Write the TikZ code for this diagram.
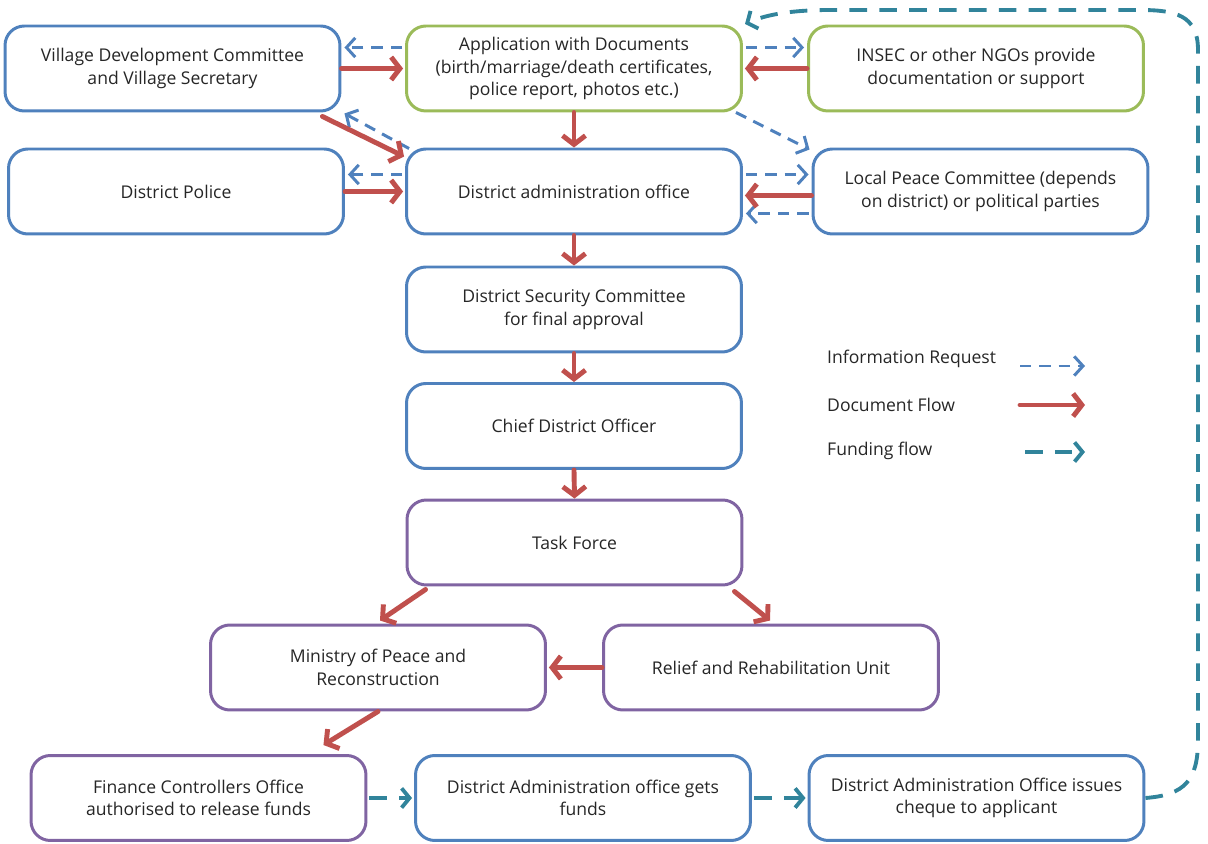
\documentclass[tikz,border=0pt]{standalone}
\usepackage{fontspec}
\setmainfont{Open Sans}
\usetikzlibrary{arrows.meta,positioning}
\definecolor{boxblue}{HTML}{4F81BD}
\definecolor{boxgreen}{HTML}{9BBB59}
\definecolor{boxpurple}{HTML}{8064A2}
\definecolor{docred}{HTML}{C0504D}
\definecolor{fundteal}{HTML}{31849B}
\tikzstyle{stepbox} = [rectangle, rounded corners=11pt, draw=boxblue, line width=1.7pt, fill=white, minimum width=6.7cm, minimum height=1.7cm, align=center, text=black!85, font=\fontsize{10}{12.8}\selectfont]
\tikzstyle{greenbox} = [stepbox, draw=boxgreen]
\tikzstyle{purplebox} = [stepbox, draw=boxpurple]
\tikzstyle{info} = [draw=boxblue, line width=1.7pt, dash pattern=on 6.5pt off 4.5pt, -{Straight Barb[length=5pt,width=11pt]}]
\tikzstyle{doc} = [draw=docred, line width=2.8pt, line cap=round, -{Straight Barb[length=5pt,width=13pt]}]
\tikzstyle{fund} = [draw=fundteal, line width=2.2pt, dash pattern=on 10pt off 7pt, -{Straight Barb[length=4.5pt,width=11pt]}]
\tikzstyle{legend} = [anchor=west, text=black!85, font=\fontsize{10}{12.8}\selectfont]

\begin{document}
\begin{tikzpicture}[x=0.02cm, y=-0.02cm]
\useasboundingbox (0,0) rectangle (1208,844);
\node [stepbox] (vdc) at (172.5,68.5) {Village Development Committee\\and Village Secretary};
\node [greenbox] (app) at (574,68.5) {Application with Documents\\(birth/marriage/death certificates,\\police report, photos etc.)};
\node [greenbox] (insec) at (976,68.5) {INSEC or other NGOs provide\\documentation or support};
\node [stepbox] (police) at (176,191.5) {District Police};
\node [stepbox] (dao) at (574,191.5) {District administration office};
\node [stepbox] (lpc) at (980.5,191.5) {Local Peace Committee (depends\\on district) or political parties};
\node [stepbox] (dsc) at (574,309.5) {District Security Committee\\for final approval};
\node [stepbox] (cdo) at (574,426) {Chief District Officer};
\node [purplebox] (tf) at (574.5,542.5) {Task Force};
\node [purplebox] (mpr) at (378,667.5) {Ministry of Peace and\\Reconstruction};
\node [purplebox] (rru) at (771,667.5) {Relief and Rehabilitation Unit};
\node [purplebox] (fco) at (198.5,798) {Finance Controllers Office\\authorised to release funds};
\node [stepbox] (dagets) at (583,798) {District Administration office gets\\funds};
\node [stepbox] (daissues) at (976.5,798) {District Administration Office issues\\cheque to applicant};

\node [legend] (linfo) at (821,359) {Information Request};
\node [legend] (ldoc) at (821,405) {Document Flow};
\node [legend] (lfund) at (821,451) {Funding flow};
\coordinate (infoa) at (1020,366);
\coordinate (infob) at (1085,366);
\coordinate (doca) at (1020,405);
\coordinate (docb) at (1085,405);
\coordinate (funda) at (1025,452);
\coordinate (fundb) at (1085,452);

\draw [info] ([shift={(-3,-21)}]app.west) -- ([shift={(3,-21)}]vdc.east);
\draw [info] ([shift={(3,-21)}]app.east) -- ([shift={(-3,-21)}]insec.west);
\draw [info] ([shift={(4,1)}]dao.north west) -- ([shift={(3,1)}]vdc.south east);
\draw [info] ([shift={(-7,0)}]app.south east) -- ([shift={(-2,2)}]lpc.north west);
\draw [info] ([shift={(-3,-17)}]dao.west) -- ([shift={(3,-17)}]police.east);
\draw [info] ([shift={(3,-17)}]dao.east) -- ([shift={(-3,-17)}]lpc.west);
\draw [info] ([shift={(-3,22)}]lpc.west) -- ([shift={(3,22)}]dao.east);

\draw [doc] (vdc.east) -- ([shift={(-2,0)}]app.west);
\draw [doc] (insec.west) -- ([shift={(2,0)}]app.east);
\draw [doc] ([shift={(-19,4)}]vdc.south east) -- ([shift={(-1,9)}]dao.north west);
\draw [doc] (app.south) -- (dao.north);
\draw [doc] (police.east) -- ([shift={(-2,0)}]dao.west);
\draw [doc] ([shift={(0,4)}]lpc.west) -- ([shift={(2,4)}]dao.east);
\draw [doc] (dao.south) -- (dsc.north);
\draw [doc] (dsc.south) -- (cdo.north);
\draw [doc] (cdo.south) -- (tf.north);
\draw [doc] ([shift={(20,3)}]tf.south west) -- ([shift={(2,-3)}]mpr.north);
\draw [doc] ([shift={(-9,5)}]tf.south east) -- ([shift={(-1,-3)}]rru.north);
\draw [doc] (rru.west) -- ([shift={(2,0)}]mpr.east);
\draw [doc] (mpr.south) -- ([shift={(-44,-9)}]fco.north east);

\draw [fund] ([shift={(2,0)}]fco.east) -- ([shift={(-2,0)}]dagets.west);
\draw [fund] ([shift={(2,0)}]dagets.east) -- ([shift={(-2,0)}]daissues.west);
\draw [fund] (daissues.east) .. controls (1185,795) and (1198,780) .. (1198,740) -- (1198,50) .. controls (1198,15) and (1175,10) .. (1140,10) -- (830,10) .. controls (790,10) and (765,15) .. (745,24);

\draw [info] (infoa) -- (infob);
\draw [doc] (doca) -- (docb);
\draw [fund] (funda) -- (fundb);
\end{tikzpicture}
\end{document}
